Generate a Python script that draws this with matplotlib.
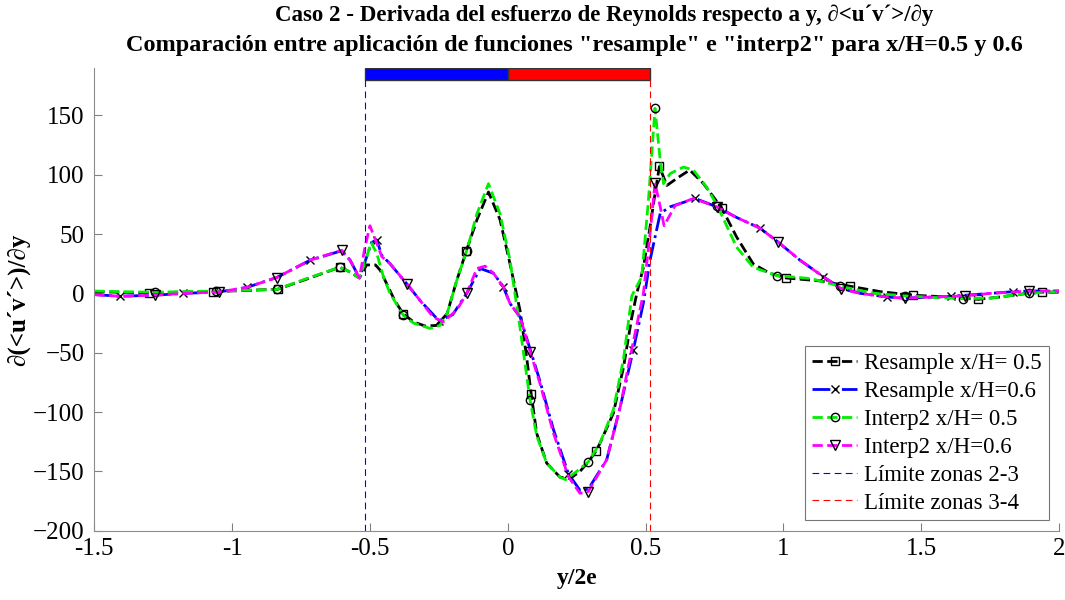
import matplotlib.pyplot as plt
import numpy as np

plt.rcParams['font.family'] = ['Liberation Serif', 'DejaVu Serif']
plt.rcParams['mathtext.fontset'] = 'stix'

# Resample x/H = 0.5
x_res05 = np.array([-1.5, -1.41, -1.30, -1.18, -1.07, -0.947, -0.835, -0.73, -0.61, -0.584,
                    -0.538, -0.512, -0.48, -0.463, -0.44, -0.41, -0.38, -0.342, -0.30, -0.258,
                    -0.22, -0.185, -0.15, -0.112, -0.07, -0.028, 0.008, 0.045, 0.069, 0.085,
                    0.105, 0.141, 0.19, 0.226, 0.262, 0.292, 0.32, 0.335, 0.383, 0.42,
                    0.45, 0.468, 0.492, 0.516, 0.534, 0.55, 0.577, 0.62, 0.66, 0.71,
                    0.776, 0.83, 0.89, 0.95, 1.01, 1.133, 1.243, 1.351, 1.47, 1.593,
                    1.707, 1.786, 1.883, 1.937, 2.0])
y_res05 = np.array([1.5, 1, 0.5, 1, 1.5, 2.5, 3.5, 12, 22, 19.5,
                    13, 24, 24, 19.6, 8.5, -6, -17, -24, -27.5, -27,
                    -17, 11, 36, 62, 85.5, 62, 25, -15, -55, -85,
                    -118, -143, -155, -156, -150, -142, -133, -126, -101, -62,
                    -20, 0, 22, 56, 84, 107, 91, 98, 104, 92.5,
                    72, 47.6, 25, 17, 13, 10.5, 6, 1.5, -1.5, -3,
                    -5, -3, 0, 1, 1])

# Resample x/H = 0.6
x_res06 = np.array([-1.5, -1.407, -1.28, -1.177, -1.046, -0.947, -0.838, -0.717, -0.602, -0.572,
                    -0.538, -0.494, -0.475, -0.457, -0.427, -0.366, -0.318, -0.25, -0.2, -0.149,
                    -0.1, -0.052, -0.016, 0.008, 0.045, 0.081, 0.117, 0.166, 0.22, 0.262,
                    0.292, 0.359, 0.408, 0.455, 0.492, 0.516, 0.553, 0.589, 0.68, 0.758,
                    0.83, 0.915, 0.982, 1.06, 1.145, 1.21, 1.28, 1.375, 1.44, 1.55,
                    1.606, 1.75, 1.834, 1.89, 2.0])
y_res06 = np.array([-1, -2.4, -1.5, 0, 1.3, 5, 13.4, 28, 36, 28,
                    13, 43, 45, 32, 25, 8, -6, -23, -18, 0,
                    21, 17, 5.5, -8.5, -20, -47, -74, -115, -152, -166,
                    -165, -140, -95.5, -48, -8, 28, 67.5, 73, 80, 73,
                    64, 55, 43, 28, 14, 4, 0, -3, -4, -3,
                    -2.5, 0, 1.5, 2, 2])

# Interp2 x/H = 0.5
x_int05 = np.array([-1.5, -1.41, -1.28, -1.18, -1.06, -0.947, -0.838, -0.73, -0.61, -0.584,
                    -0.538, -0.515, -0.496, -0.475, -0.451, -0.427, -0.379, -0.342, -0.282, -0.246,
                    -0.22, -0.185, -0.149, -0.112, -0.07, -0.028, 0.008, 0.045, 0.081, 0.105,
                    0.141, 0.19, 0.21, 0.25, 0.292, 0.335, 0.383, 0.42, 0.45, 0.486,
                    0.51, 0.534, 0.553, 0.565, 0.589, 0.637, 0.673, 0.72, 0.76, 0.83,
                    0.89, 0.976, 1.1, 1.206, 1.33, 1.44, 1.55, 1.65, 1.75, 1.85,
                    1.89, 1.95, 2.0])
y_int05 = np.array([2, 1.5, 1, 1.5, 2, 2.7, 3.3, 12.5, 22, 19.5,
                    13, 28, 43, 33.6, 14, 0, -18.4, -25, -29.5, -27,
                    -17, 11, 36, 67, 92.5, 67, 28, -30, -90, -120,
                    -143, -155, -157, -150, -142, -126, -98, -55, -2, 14,
                    78, 156, 112, 92.5, 101, 106.5, 104, 90, 74, 39,
                    22, 15, 12.5, 6, 0, -2, -3.5, -4.5, -4, -1,
                    0, 1, 1.5])

# Interp2 x/H = 0.6
x_int06 = np.array([-1.5, -1.407, -1.28, -1.177, -1.046, -0.947, -0.838, -0.717, -0.602, -0.572,
                    -0.538, -0.518, -0.5, -0.475, -0.457, -0.427, -0.366, -0.318, -0.27, -0.234,
                    -0.185, -0.149, -0.112, -0.082, -0.052, -0.016, 0.008, 0.045, 0.081, 0.117,
                    0.166, 0.22, 0.262, 0.292, 0.359, 0.408, 0.456, 0.492, 0.516, 0.534,
                    0.553, 0.567, 0.607, 0.673, 0.758, 0.83, 0.915, 0.982, 1.06, 1.145,
                    1.21, 1.28, 1.375, 1.44, 1.55, 1.66, 1.75, 1.89, 2.0])
y_int06 = np.array([-1, -2.4, -1.5, 0, 1.3, 5, 13.4, 28, 36.4, 28,
                    13, 39, 57, 42, 31, 25, 8, -6, -20, -24,
                    -14, 0, 21, 23, 17, 5.5, -8.5, -20, -49, -76,
                    -118, -154.5, -168.5, -167, -140, -95.5, -40, 0, 50, 93,
                    73, 57, 74, 80, 73, 64, 55, 43, 28, 14,
                    4, 0, -3, -4, -3, -2, 0, 2, 2])

# where the markers sit
mk_res05 = [-1.30, -1.07, -0.835, -0.61, -0.38, -0.15, 0.085, 0.32, 0.55, 0.776, 1.01, 1.243, 1.47, 1.707, 1.937]
mk_res06 = [-1.407, -1.177, -0.947, -0.717, -0.475, -0.25, -0.016, 0.22, 0.455, 0.68, 0.915, 1.145, 1.375, 1.606, 1.834]
mk_int05 = [-1.28, -1.06, -0.838, -0.61, -0.379, -0.149, 0.081, 0.292, 0.534, 0.76, 0.976, 1.206, 1.44, 1.65, 1.89]
mk_int06 = [-1.28, -1.046, -0.838, -0.602, -0.366, -0.149, 0.081, 0.292, 0.534, 0.758, 0.982, 1.21, 1.44, 1.66, 1.89]

# zone limits and the colour bar on top
lim_23 = -0.517
lim_34 = 0.517
bar_lo, bar_hi = 180, 190

title1 = 'Caso 2 - Derivada del esfuerzo de Reynolds respecto a y, ∂<u´v´>/∂y'
title2 = 'Comparación entre aplicación de funciones "resample" e "interp2" para x/H=0.5 y 0.6'


def idx(x, mk):
    return [int(np.argmin(np.abs(x - m))) for m in mk]


fig = plt.figure(figsize=(10.65, 6), dpi=100)
ax = fig.add_axes([0.0885, 0.1155, 0.906, 0.7712])

ax.plot(x_res05, y_res05, color='k', ls='--', lw=2, marker='s', ms=6, mfc='none', mec='k',
        markevery=idx(x_res05, mk_res05), label='Resample x/H= 0.5')
ax.plot(x_res06, y_res06, color='b', ls='-.', lw=2, marker='x', ms=6, mec='k',
        markevery=idx(x_res06, mk_res06), label='Resample x/H=0.6')
ax.plot(x_int05, y_int05, color='#00ee00', ls='--', lw=2, marker='o', ms=6, mfc='none', mec='k',
        markevery=idx(x_int05, mk_int05), label='Interp2 x/H= 0.5')
ax.plot(x_int06, y_int06, color='#ff00ff', ls='--', lw=2, marker='v', ms=7, mfc='none', mec='k',
        markevery=idx(x_int06, mk_int06), label='Interp2 x/H=0.6')

ax.plot([lim_23, lim_23], [-200, bar_lo], color='b', ls=(0, (6, 4)), lw=0.8, label='Límite zonas 2-3')
ax.plot([lim_34, lim_34], [-200, bar_lo], color='r', ls=(0, (6, 4)), lw=0.8, label='Límite zonas 3-4')

ax.barh((bar_lo + bar_hi) / 2, 0 - lim_23, left=lim_23, height=bar_hi - bar_lo,
        color='b', edgecolor='#333333', lw=1)
ax.barh((bar_lo + bar_hi) / 2, lim_34 - 0, left=0, height=bar_hi - bar_lo,
        color='r', edgecolor='#333333', lw=1)

ax.set_xlim(-1.5, 2)
ax.set_ylim(-200, 190)
ax.set_xticks(np.arange(-1.5, 2.01, 0.5))
ax.set_xticklabels(['-1.5', '-1', '-0.5', '0', '0.5', '1', '1.5', '2'])
ax.set_yticks(np.arange(-200, 151, 50))
ax.tick_params(direction='in', length=6, width=0.8, colors='#808080', labelcolor='k', labelsize=18)
ax.tick_params(axis='y', pad=7)
ax.tick_params(axis='x', pad=5)
for s in ['top', 'right']:
    ax.spines[s].set_visible(False)
for s in ['left', 'bottom']:
    ax.spines[s].set_color('#8c8c8c')

ax.set_xlabel('y/2e', fontsize=17, fontweight='bold', labelpad=6)
ax.set_ylabel('∂(<u´v´>)/∂y', fontsize=18, fontweight='bold', labelpad=2)
fig.text(0.5676, 1 - 15 / 600, title1, ha='center', va='center', fontsize=16.5, fontweight='bold')
fig.text(0.539, 1 - 46 / 600, title2, ha='center', va='center', fontsize=17.5, fontweight='bold')

leg = ax.legend(loc='lower right', fontsize=16.5, fancybox=False, edgecolor='#555555',
                handlelength=2.0, handletextpad=0.3, labelspacing=0.3, borderpad=0.3,
                borderaxespad=0.45)
leg.get_frame().set_linewidth(0.8)

fig.savefig('out.png', dpi=100)
